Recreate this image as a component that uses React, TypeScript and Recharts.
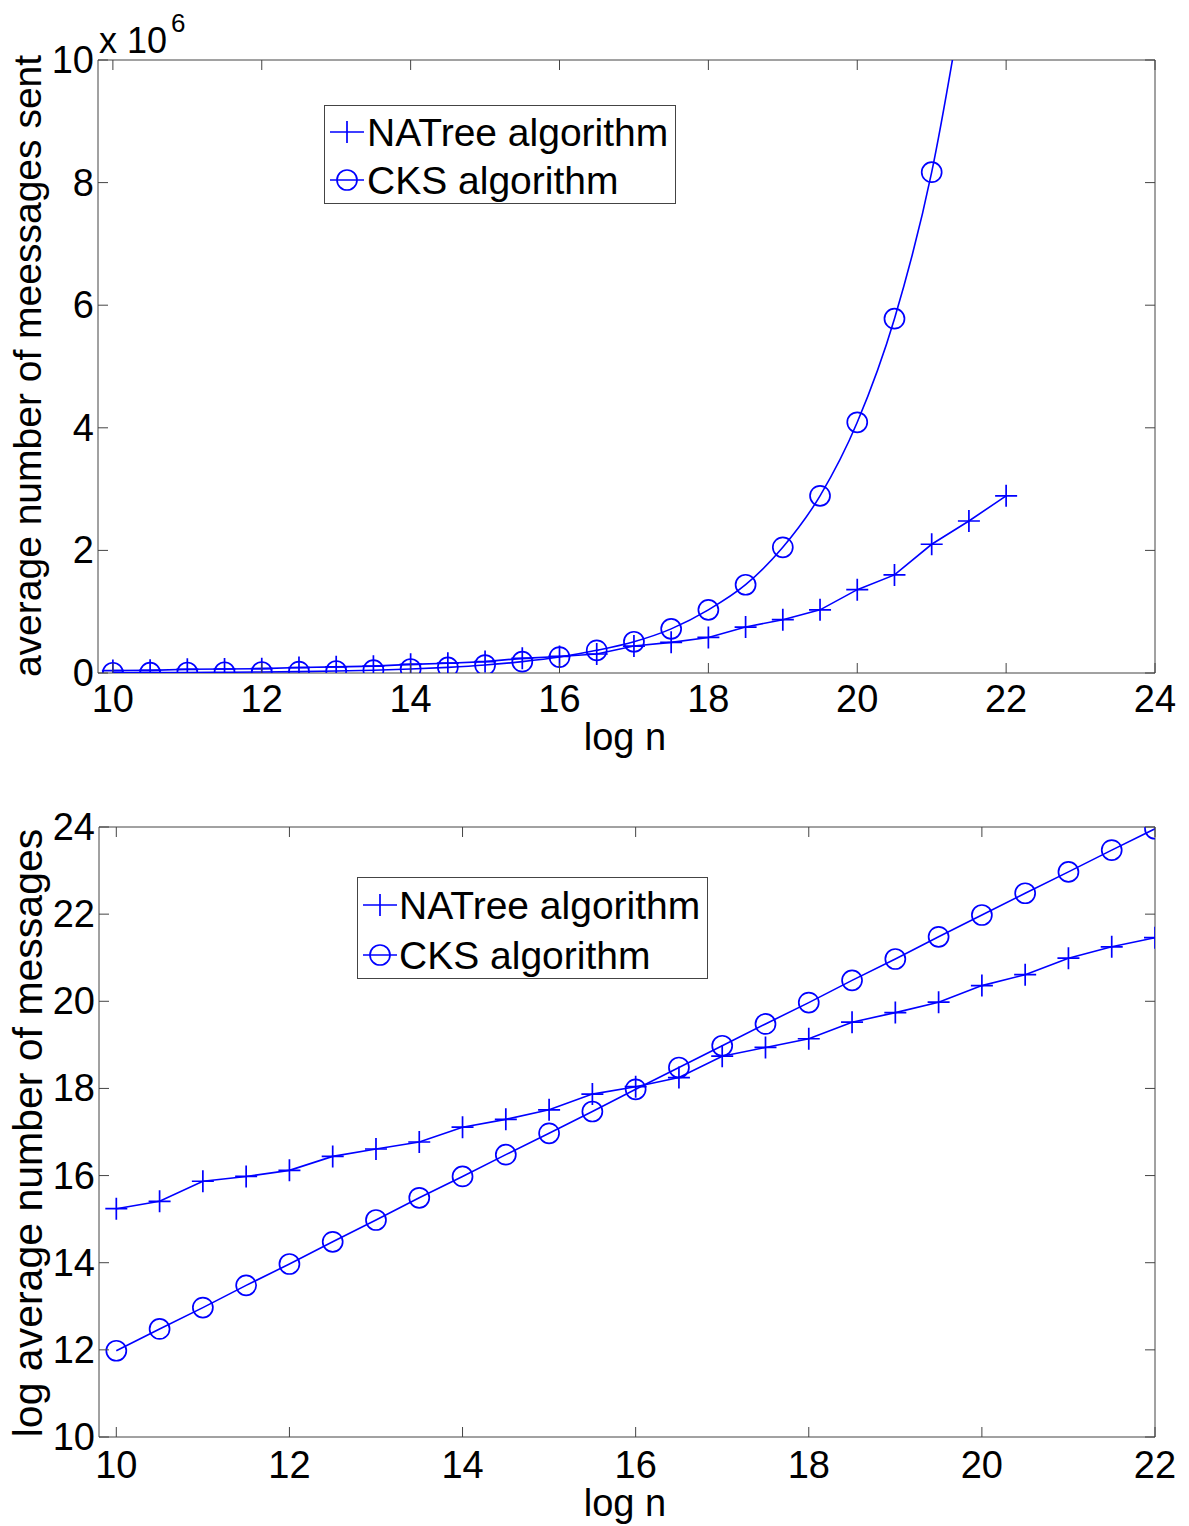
import React from 'react';
import { LineChart, Line, XAxis, YAxis, ReferenceArea, Legend } from 'recharts';

// ---------- data ----------
const logN = [10, 10.5, 11, 11.5, 12, 12.5, 13, 13.5, 14, 14.5, 15, 15.5, 16, 16.5, 17, 17.5, 18, 18.5, 19, 19.5, 20, 20.5, 21, 21.5, 22];

// top chart (x 10^6 messages)
const natreeAvg = [0.039, 0.043, 0.060, 0.065, 0.071, 0.089, 0.10, 0.112, 0.141, 0.16, 0.186, 0.239, 0.27, 0.31, 0.44, 0.50, 0.58, 0.75, 0.87, 1.03, 1.36, 1.60, 2.10, 2.48, 2.89];
const cksAvg = [0.004, 0.006, 0.008, 0.012, 0.016, 0.023, 0.033, 0.046, 0.065, 0.092, 0.13, 0.185, 0.26, 0.37, 0.51, 0.72, 1.03, 1.44, 2.05, 2.89, 4.09, 5.78, 8.17, 11.6, null];

// bottom chart (log average number of messages)
const natreeLog = [15.24, 15.41, 15.87, 15.98, 16.12, 16.44, 16.61, 16.77, 17.11, 17.29, 17.51, 17.87, 18.04, 18.25, 18.74, 18.94, 19.14, 19.52, 19.74, 19.98, 20.36, 20.61, 20.99, 21.25, 21.46];
const cksLog = [11.98, 12.48, 12.97, 13.48, 13.97, 14.48, 14.98, 15.49, 15.98, 16.48, 16.97, 17.47, 17.98, 18.48, 18.98, 19.48, 19.97, 20.48, 20.97, 21.48, 21.98, 22.48, 22.97, 23.47, 23.96];

const topXTicks = [10, 12, 14, 16, 18, 20, 22, 24];
const topYTicks = [0, 2, 4, 6, 8, 10];
const botXTicks = [10, 12, 14, 16, 18, 20, 22];
const botYTicks = [10, 12, 14, 16, 18, 20, 22, 24];

const seriesNames = ['NATree algorithm', 'CKS algorithm'];

const topData = logN.map((x, i) => ({ x, natree: natreeAvg[i], cks: cksAvg[i] }));
const botData = logN.map((x, i) => ({ x, natree: natreeLog[i], cks: cksLog[i] }));

// ---------- styling ----------
const FONT = '"Liberation Sans", Arial, Helvetica, sans-serif';
const BLUE = '#0000FF';
const AXIS = '#444444';
const TICK_LEN = 10;
const FS = 38;

const plusDot = (props: any) => {
  const { cx, cy, index } = props;
  if (cx == null || cy == null || isNaN(cx) || isNaN(cy)) return <g key={`p${index}`} />;
  return (
    <path
      key={`p${index}`}
      d={`M${cx - 11},${cy}H${cx + 11}M${cx},${cy - 11}V${cy + 11}`}
      stroke={BLUE}
      strokeWidth={1.7}
      fill="none"
    />
  );
};

const circleDot = (props: any) => {
  const { cx, cy, index } = props;
  if (cx == null || cy == null || isNaN(cx) || isNaN(cy)) return <g key={`c${index}`} />;
  return <circle key={`c${index}`} cx={cx} cy={cy} r={10} stroke={BLUE} strokeWidth={1.7} fill="none" />;
};

const makeXTick = (plotH: number, labelDy: number) => (props: any) => {
  const { x, y, payload } = props;
  return (
    <g>
      <line x1={x} y1={y} x2={x} y2={y - TICK_LEN} stroke={AXIS} strokeWidth={1} />
      <line x1={x} y1={y - plotH} x2={x} y2={y - plotH + TICK_LEN} stroke={AXIS} strokeWidth={1} />
      <text x={x} y={y + labelDy} textAnchor="middle" fontSize={FS} fontFamily={FONT} fill="#000">
        {payload.value}
      </text>
    </g>
  );
};

const makeYTick = (plotW: number) => (props: any) => {
  const { x, y, payload } = props;
  return (
    <g>
      <line x1={x} y1={y} x2={x + TICK_LEN} y2={y} stroke={AXIS} strokeWidth={1} />
      <line x1={x + plotW} y1={y} x2={x + plotW - TICK_LEN} y2={y} stroke={AXIS} strokeWidth={1} />
      <text x={x - 4} y={y + 13} textAnchor="end" fontSize={FS} fontFamily={FONT} fill="#000">
        {payload.value}
      </text>
    </g>
  );
};

const makeLegend = (w: number, h: number, row1: number, row2: number, symX: number, textX: number) => () => (
  <svg width={w} height={h} style={{ display: 'block' }}>
    <rect x={0.5} y={0.5} width={w - 1} height={h - 1} fill="#fff" stroke={AXIS} strokeWidth={1} />
    <path d={`M${symX - 17},${row1}H${symX + 17}M${symX},${row1 - 11}V${row1 + 11}`} stroke={BLUE} strokeWidth={1.7} fill="none" />
    <text x={textX} y={row1 + 14} fontSize={39} fontFamily={FONT} fill="#000">{seriesNames[0]}</text>
    <path d={`M${symX - 17},${row2}H${symX + 17}`} stroke={BLUE} strokeWidth={1.7} fill="none" />
    <circle cx={symX} cy={row2} r={10} stroke={BLUE} strokeWidth={1.7} fill="none" />
    <text x={textX} y={row2 + 14} fontSize={39} fontFamily={FONT} fill="#000">{seriesNames[1]}</text>
  </svg>
);

// layout constants
const W = 1189;
const TOP_H = 760;
const TOP_MARGIN = { top: 60, right: 34, bottom: 0, left: 0 };
const TOP_YW = 98;
const TOP_XH = 87;
const TOP_PW = W - TOP_MARGIN.left - TOP_MARGIN.right - TOP_YW;
const TOP_PH = TOP_H - TOP_MARGIN.top - TOP_MARGIN.bottom - TOP_XH;

const BOT_H = 766;
const BOT_MARGIN = { top: 67, right: 34, bottom: 0, left: 0 };
const BOT_YW = 99;
const BOT_XH = 89;
const BOT_PW = W - BOT_MARGIN.left - BOT_MARGIN.right - BOT_YW;
const BOT_PH = BOT_H - BOT_MARGIN.top - BOT_MARGIN.bottom - BOT_XH;

const TopChart = () => (
  <LineChart width={W} height={TOP_H} data={topData} margin={TOP_MARGIN}>
    <ReferenceArea x1={9.8} x2={24} y1={0} y2={10} fill="none" stroke={AXIS} strokeWidth={1} ifOverflow="visible" />
    <XAxis
      dataKey="x"
      type="number"
      domain={[9.8, 24]}
      ticks={topXTicks}
      interval={0}
      allowDataOverflow
      height={TOP_XH}
      axisLine={false}
      tickLine={false}
      tickSize={0}
      tickMargin={0}
      tick={makeXTick(TOP_PH, 39)}
      label={() => (
        <text x={625} y={750} textAnchor="middle" fontSize={FS} fontFamily={FONT} fill="#000">log n</text>
      )}
    />
    <YAxis
      type="number"
      domain={[0, 10]}
      ticks={topYTicks}
      interval={0}
      allowDataOverflow
      width={TOP_YW}
      axisLine={false}
      tickLine={false}
      tickSize={0}
      tickMargin={0}
      tick={makeYTick(TOP_PW)}
      label={() => (
        <g>
          <text
            x={0}
            y={0}
            transform="translate(41,366) rotate(-90)"
            textAnchor="middle"
            fontSize={39}
            fontFamily={FONT}
            fill="#000"
          >
            average number of meessages sent
          </text>
          <text x={99} y={53} fontSize={36} fontFamily={FONT} fill="#000">x 10</text>
          <text x={171} y={32} fontSize={26} fontFamily={FONT} fill="#000">6</text>
        </g>
      )}
    />
    <Legend
      layout="vertical"
      align="center"
      verticalAlign="middle"
      wrapperStyle={{ position: 'absolute', left: 324, top: 105, width: 352, height: 99 }}
      content={makeLegend(352, 99, 27, 75, 23, 43)}
    />
    <Line type="linear" dataKey="natree" stroke={BLUE} strokeWidth={1.6} dot={plusDot} activeDot={false} isAnimationActive={false} />
    <Line type="monotone" dataKey="cks" stroke={BLUE} strokeWidth={1.6} dot={circleDot} activeDot={false} isAnimationActive={false} />
  </LineChart>
);

const BottomChart = () => (
  <LineChart width={W} height={BOT_H} data={botData} margin={BOT_MARGIN}>
    <ReferenceArea x1={9.8} x2={22} y1={10} y2={24} fill="none" stroke={AXIS} strokeWidth={1} ifOverflow="visible" />
    <XAxis
      dataKey="x"
      type="number"
      domain={[9.8, 22]}
      ticks={botXTicks}
      interval={0}
      allowDataOverflow
      height={BOT_XH}
      axisLine={false}
      tickLine={false}
      tickSize={0}
      tickMargin={0}
      tick={makeXTick(BOT_PH, 41)}
      label={() => (
        <text x={625} y={756} textAnchor="middle" fontSize={FS} fontFamily={FONT} fill="#000">log n</text>
      )}
    />
    <YAxis
      type="number"
      domain={[10, 24]}
      ticks={botYTicks}
      interval={0}
      allowDataOverflow
      width={BOT_YW}
      axisLine={false}
      tickLine={false}
      tickSize={0}
      tickMargin={0}
      tick={makeYTick(BOT_PW)}
      label={() => (
        <text
          x={0}
          y={0}
          transform="translate(42,373) rotate(-90)"
          textAnchor="middle"
          fontSize={41}
          fontFamily={FONT}
          fill="#000"
        >
          log average number of messages
        </text>
      )}
    />
    <Legend
      layout="vertical"
      align="center"
      verticalAlign="middle"
      wrapperStyle={{ position: 'absolute', left: 357, top: 117, width: 351, height: 102 }}
      content={makeLegend(351, 102, 28, 78, 23, 42)}
    />
    <Line type="linear" dataKey="natree" stroke={BLUE} strokeWidth={1.6} dot={plusDot} activeDot={false} isAnimationActive={false} />
    <Line type="linear" dataKey="cks" stroke={BLUE} strokeWidth={1.6} dot={circleDot} activeDot={false} isAnimationActive={false} />
  </LineChart>
);

export default function App() {
  return (
    <div style={{ position: 'absolute', left: 0, top: 0, width: W, height: 1526, background: '#fff', fontFamily: FONT }}>
      <div style={{ position: 'absolute', left: 0, top: 0 }}>
        <TopChart />
      </div>
      <div style={{ position: 'absolute', left: 0, top: TOP_H }}>
        <BottomChart />
      </div>
    </div>
  );
}
